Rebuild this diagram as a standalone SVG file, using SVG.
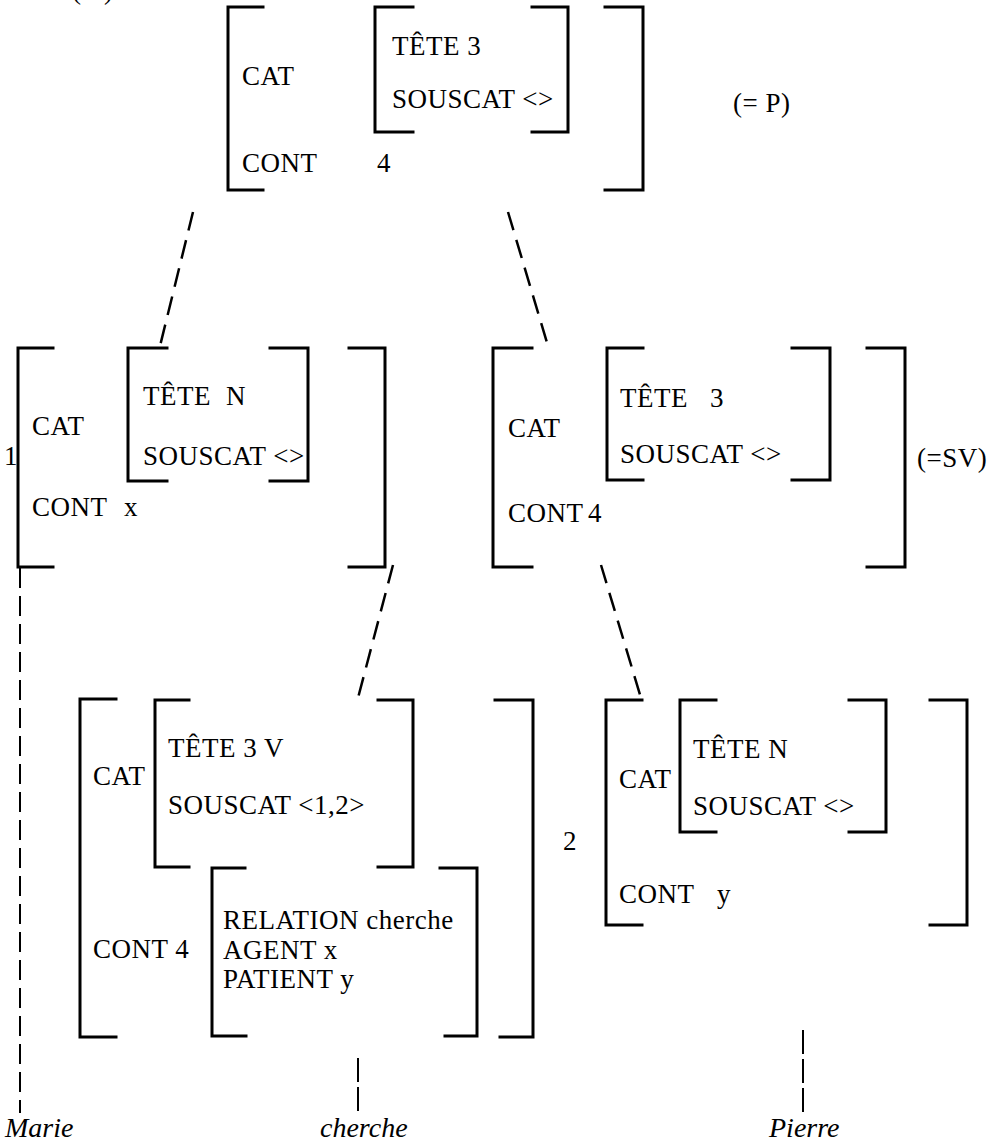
<svg xmlns="http://www.w3.org/2000/svg" width="989" height="1141" viewBox="0 0 989 1141">
<style>
.b{fill:none;stroke:#000;stroke-width:3;stroke-linecap:square}
.t{font-family:"Liberation Serif","Times New Roman",serif;font-size:27px;letter-spacing:0.5px;fill:#000}
.w{font-family:"Liberation Serif","Times New Roman",serif;font-size:28px;font-style:italic;fill:#000}
.d{fill:none;stroke:#000;stroke-width:2.5;stroke-dasharray:19 10}
.v{fill:none;stroke:#000;stroke-width:2;stroke-dasharray:20 8}
.v2{fill:none;stroke:#000;stroke-width:2;stroke-dasharray:24 5}
</style>
<rect width="989" height="1141" fill="#fff"/>
<text class="t" x="72" y="-1">(</text>
<text class="t" x="104" y="-1">)</text>

<g id="node-P">
<path class="b" d="M263 7H228V190H263"/>
<path class="b" d="M413 7H375V132H413"/>
<path class="b" d="M532 7H568V132H532"/>
<path class="b" d="M605 7H643V190H605"/>
<text class="t" x="242" y="85">CAT</text>
<text class="t" x="392" y="55">TÊTE 3</text>
<text class="t" x="392" y="108">SOUSCAT &lt;&gt;</text>
<text class="t" x="242" y="172">CONT</text>
<text class="t" x="377" y="172">4</text>
<text class="t" x="733" y="112">(= P)</text>
</g>

<g id="node-Marie">
<path class="b" d="M53 348H18V567H53"/>
<path class="b" d="M167 348H128V481H167"/>
<path class="b" d="M270 348H308V481H270"/>
<path class="b" d="M349 348H385V567H349"/>
<text class="t" x="4" y="465">1</text>
<text class="t" x="32" y="435">CAT</text>
<text class="t" x="143" y="405">TÊTE</text>
<text class="t" x="226" y="405">N</text>
<text class="t" x="143" y="465">SOUSCAT &lt;&gt;</text>
<text class="t" x="32" y="516">CONT</text>
<text class="t" x="124" y="516">x</text>
</g>

<g id="node-SV">
<path class="b" d="M532 348H493V567H532"/>
<path class="b" d="M643 348H607V480H643"/>
<path class="b" d="M792 348H830V480H792"/>
<path class="b" d="M867 348H905V567H867"/>
<text class="t" x="508" y="437">CAT</text>
<text class="t" x="620" y="407">TÊTE</text>
<text class="t" x="710" y="407">3</text>
<text class="t" x="620" y="463">SOUSCAT &lt;&gt;</text>
<text class="t" x="508" y="522">CONT</text>
<text class="t" x="588" y="522">4</text>
<text class="t" x="917" y="467">(=SV)</text>
</g>

<g id="node-cherche">
<path class="b" d="M116 699H80V1037H116"/>
<path class="b" d="M189 700H155V867H189"/>
<path class="b" d="M378 700H413V867H378"/>
<path class="b" d="M245 868H212V1036H246"/>
<path class="b" d="M440 868H477V1036H445"/>
<path class="b" d="M495 700H533V1037H500"/>
<text class="t" x="93" y="785">CAT</text>
<text class="t" x="168" y="757">TÊTE 3 V</text>
<text class="t" x="168" y="814">SOUSCAT &lt;1,2&gt;</text>
<text class="t" x="93" y="958">CONT 4</text>
<text class="t" x="223" y="929">RELATION cherche</text>
<text class="t" x="223" y="959">AGENT x</text>
<text class="t" x="223" y="988">PATIENT y</text>
</g>

<g id="node-Pierre">
<path class="b" d="M642 700H606V925H642"/>
<path class="b" d="M716 700H680V832H716"/>
<path class="b" d="M849 700H886V832H849"/>
<path class="b" d="M930 700H967V925H930"/>
<text class="t" x="563" y="850">2</text>
<text class="t" x="619" y="788">CAT</text>
<text class="t" x="693" y="758">TÊTE N</text>
<text class="t" x="693" y="815">SOUSCAT &lt;&gt;</text>
<text class="t" x="619" y="903">CONT</text>
<text class="t" x="717" y="903">y</text>
</g>

<g id="connectors">
<path class="d" d="M193 212L160 346"/>
<path class="d" d="M508 212L548 346"/>
<path class="d" d="M393 565L358 698"/>
<path class="d" d="M601 565L641 698"/>
<path class="v" d="M20 568V1113"/>
<path class="v2" d="M358 1058V1115"/>
<path class="v2" d="M803 1030V1115"/>
</g>

<g id="words">
<text class="w" x="5" y="1137">Marie</text>
<text class="w" x="320" y="1137">cherche</text>
<text class="w" x="769" y="1137">Pierre</text>
</g>
</svg>
